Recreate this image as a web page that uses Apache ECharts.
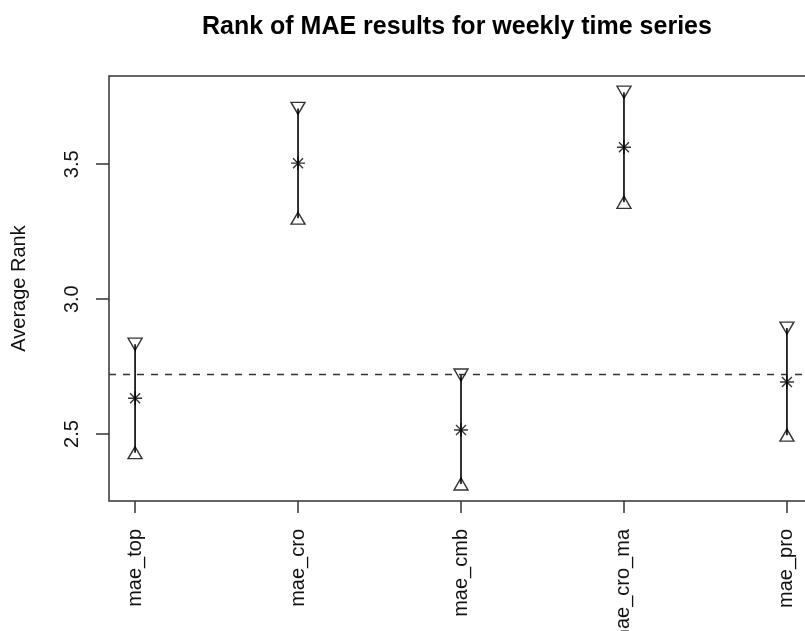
<!DOCTYPE html>
<html>
<head>
<meta charset="utf-8">
<script src="https://cdn.jsdelivr.net/npm/echarts@6/dist/echarts.min.js"></script>
<style>
  html, body { margin: 0; padding: 0; background: #fff; }
  #chart { width: 805px; height: 631px; }
</style>
</head>
<body>
<div id="chart"></div>
<script>
// ---- data ----
const categories = ['mae_top', 'mae_cro', 'mae_cmb', 'mae_cro_ma', 'mae_pro'];
const categoryIndex = [1, 2, 3, 4, 5];
const meanRank = [2.633, 3.504, 2.515, 3.563, 2.693];
const lowerRank = [2.431, 3.300, 2.315, 3.359, 2.496];
const upperRank = [2.833, 3.707, 2.719, 3.767, 2.893];
const referenceLine = 2.72;
const yTicks = [2.5, 3.0, 3.5];
const titleText = 'Rank of MAE results for weekly time series';
const yAxisTitle = 'Average Rank';

// ---- chart ----
const FONT = '"Liberation Sans", Arial, Helvetica, sans-serif';
const INK = '#000';
const chart = echarts.init(document.getElementById('chart'), null, { renderer: 'canvas' });

const meanData = categoryIndex.map((x, i) => [x, meanRank[i]]);
const lowData = categoryIndex.map((x, i) => [x, lowerRank[i]]);
const upData = categoryIndex.map((x, i) => [x, upperRank[i]]);
const barData = categoryIndex.map((x, i) => [x, lowerRank[i], upperRank[i]]);

const asterisk = 'path://M0,7L14,7M7,0L7,14M2,2L12,12M12,2L2,12';

chart.setOption({
  animation: false,
  backgroundColor: '#fff',
  title: {
    text: titleText,
    left: 202,
    top: 15,
    padding: 0,
    textStyle: { fontFamily: FONT, fontWeight: 'bold', fontSize: 25, color: '#000' }
  },
  grid: {
    left: 109, top: 76, right: -8, bottom: 130,
    containLabel: false,
    outerBoundsMode: 'none',
    show: true, borderColor: '#333', borderWidth: 1.5, backgroundColor: 'transparent'
  },
  xAxis: {
    type: 'value',
    min: 0.84, max: 5.16,
    splitLine: { show: false },
    axisLine: { show: false },
    axisTick: { show: true, length: 12, lineStyle: { color: '#333', width: 1.5 }, customValues: categoryIndex },
    axisLabel: {
      customValues: categoryIndex,
      rotate: 90, margin: 28,
      fontFamily: FONT, fontSize: 20, color: '#111',
      formatter: v => categories[Math.round(v) - 1] || ''
    }
  },
  yAxis: {
    type: 'value',
    min: 2.252, max: 3.827,
    name: yAxisTitle,
    nameLocation: 'middle',
    nameGap: 80,
    nameRotate: 90,
    nameTextStyle: { fontFamily: FONT, fontSize: 20, color: '#111' },
    splitLine: { show: false },
    axisLine: { show: false },
    axisTick: { show: true, length: 13, lineStyle: { color: '#333', width: 1.5 }, customValues: yTicks },
    axisLabel: {
      customValues: yTicks,
      rotate: 90, margin: 27,
      fontFamily: FONT, fontSize: 20, color: '#111',
      formatter: v => v.toFixed(1)
    }
  },
  series: [
    {
      type: 'custom',
      data: barData,
      encode: { x: 0, y: [1, 2] },
      z: 2,
      renderItem: function (params, api) {
        const p1 = api.coord([api.value(0), api.value(1)]);
        const p2 = api.coord([api.value(0), api.value(2)]);
        return {
          type: 'line',
          shape: { x1: p1[0], y1: p1[1], x2: p2[0], y2: p2[1] },
          style: { stroke: INK, lineWidth: 1.6 }
        };
      },
      markLine: {
        silent: true,
        symbol: ['none', 'none'],
        label: { show: false },
        lineStyle: { color: '#333', width: 1.3, type: [7, 7] },
        data: [{ yAxis: referenceLine }]
      }
    },
    {
      type: 'scatter',
      data: upData,
      symbol: 'triangle',
      symbolRotate: 180,
      symbolSize: [14, 12],
      z: 3,
      itemStyle: { color: 'rgba(0,0,0,0)', borderColor: INK, borderWidth: 1.4 }
    },
    {
      type: 'scatter',
      data: lowData,
      symbol: 'triangle',
      symbolSize: [14, 12],
      z: 3,
      itemStyle: { color: 'rgba(0,0,0,0)', borderColor: INK, borderWidth: 1.4 }
    },
    {
      type: 'scatter',
      data: meanData,
      symbol: asterisk,
      symbolSize: 14,
      z: 4,
      itemStyle: { color: 'rgba(0,0,0,0)', borderColor: INK, borderWidth: 1.4 }
    }
  ]
});
</script>
</body>
</html>
